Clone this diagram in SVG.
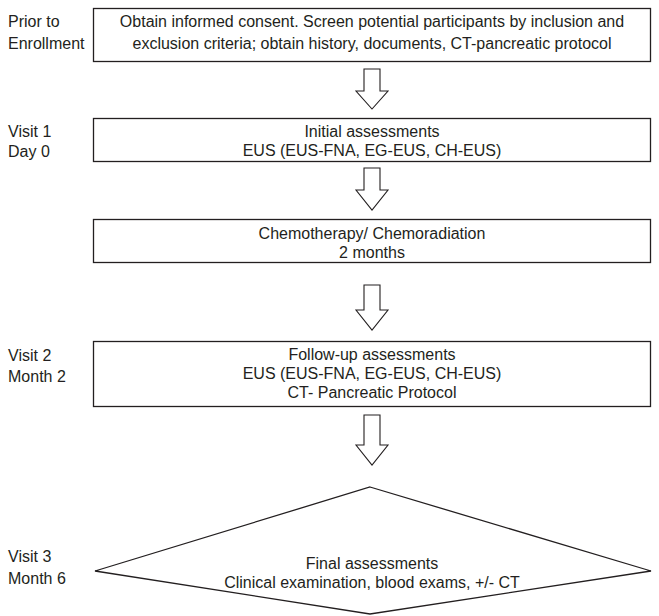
<svg xmlns="http://www.w3.org/2000/svg" width="659" height="616" viewBox="0 0 659 616">
<style>
.box{fill:#fff;stroke:#231f20;stroke-width:1.3}
.arr{fill:#fff;stroke:#231f20;stroke-width:1.1;stroke-linejoin:miter}
text{font-family:"Liberation Sans",Arial,sans-serif;font-size:16px;fill:#231f20}
.c{text-anchor:middle}
</style>
<rect width="659" height="616" fill="#fff"/>
<g id="labels">
<text x="8" y="27">Prior to</text>
<text x="8" y="49">Enrollment</text>
<text x="8" y="137">Visit 1</text>
<text x="8" y="157">Day 0</text>
<text x="8" y="361">Visit 2</text>
<text x="8" y="382">Month 2</text>
<text x="8" y="562">Visit 3</text>
<text x="8" y="584">Month 6</text>
</g>
<g id="connectors">
<polygon class="arr" points="364,69 380,69 380,91 388,91 372,109 356,91 364,91"/>
<polygon class="arr" points="364,168 380,168 380,190 388,190 372,210 356,190 364,190"/>
<polygon class="arr" points="364,285 380,285 380,310 388,310 372,330 356,310 364,310"/>
<polygon class="arr" points="364,415 380,415 380,445 388,445 372,465 356,445 364,445"/>
</g>
<g id="n1">
<rect class="box" x="93.5" y="8.5" width="557" height="53"/>
<text class="c" x="372" y="27">Obtain informed consent. Screen potential participants by inclusion and</text>
<text class="c" x="372" y="49">exclusion criteria; obtain history, documents, CT-pancreatic protocol</text>
</g>
<g id="n2">
<rect class="box" x="93.5" y="118.5" width="557" height="43"/>
<text class="c" x="372" y="137">Initial assessments</text>
<text class="c" x="372" y="156">EUS (EUS-FNA, EG-EUS, CH-EUS)</text>
</g>
<g id="n3">
<rect class="box" x="93.5" y="219.5" width="557" height="43"/>
<text class="c" x="372" y="239">Chemotherapy/ Chemoradiation</text>
<text class="c" x="372" y="258">2 months</text>
</g>
<g id="n4">
<rect class="box" x="93.5" y="341.5" width="557" height="65"/>
<text class="c" x="372" y="360">Follow-up assessments</text>
<text class="c" x="372" y="379">EUS (EUS-FNA, EG-EUS, CH-EUS)</text>
<text class="c" x="372" y="398">CT- Pancreatic Protocol</text>
</g>
<g id="n5">
<polygon class="box" points="370,487 651,571 370,614 95,571"/>
<text class="c" x="372" y="569">Final assessments</text>
<text class="c" x="372" y="588">Clinical examination, blood exams, +/- CT</text>
</g>
</svg>
